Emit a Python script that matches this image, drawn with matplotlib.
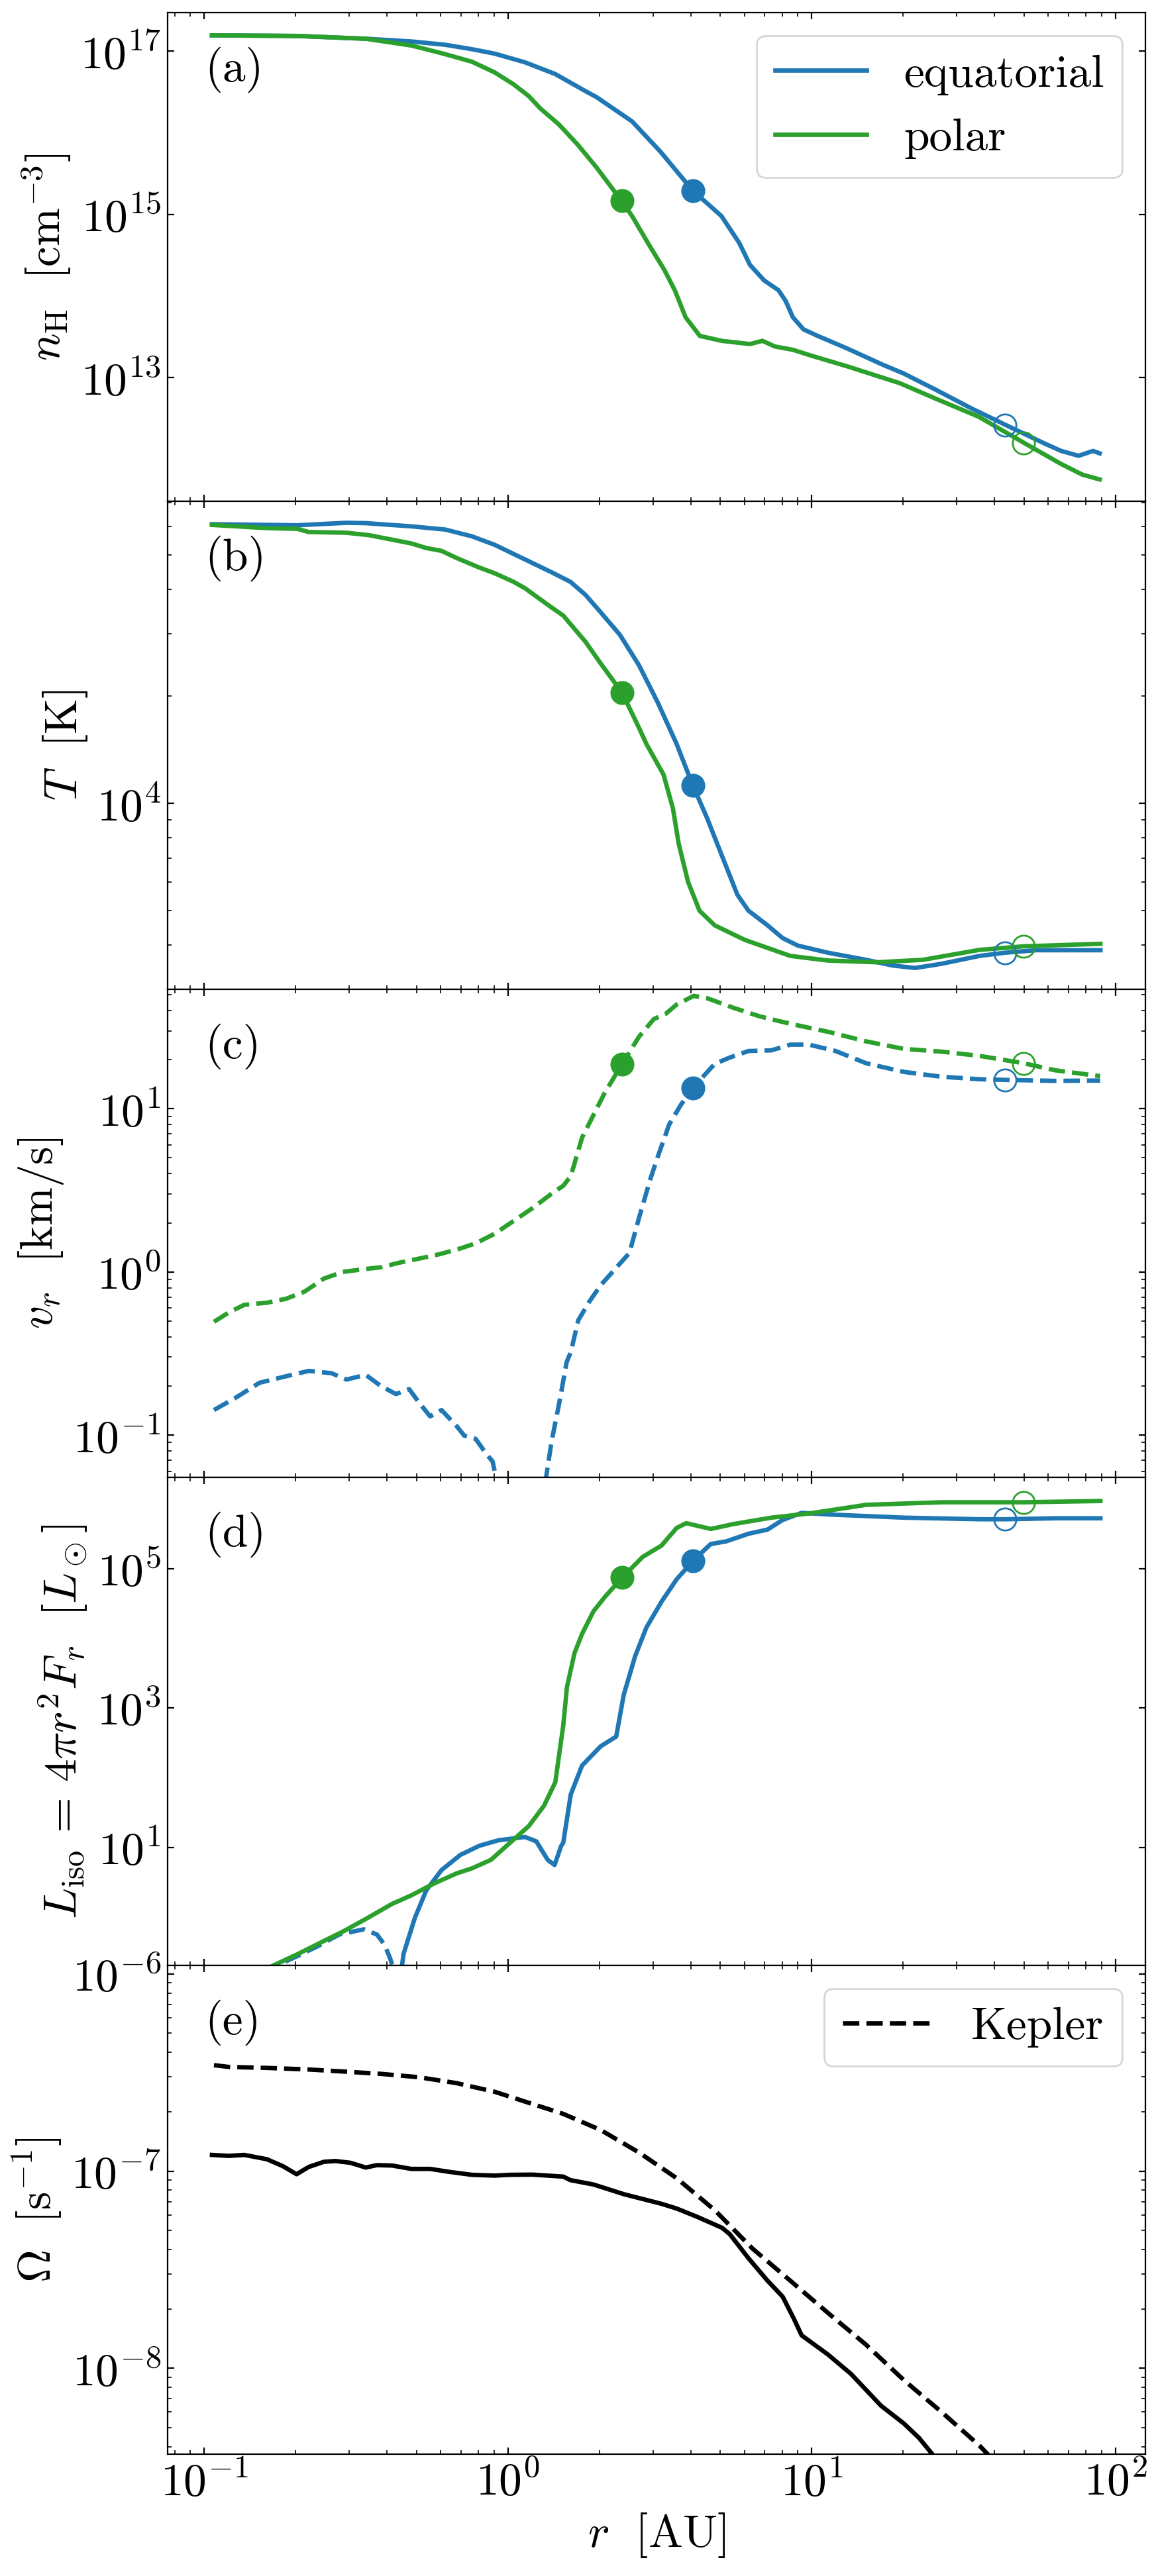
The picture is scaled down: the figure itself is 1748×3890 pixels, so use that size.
import numpy as np
from matplotlib import pyplot as plt
from matplotlib.ticker import NullLocator, NullFormatter

# values; y values stored as log10 (read on log axes)
BLUE = "#1f77b4"
GREEN = "#2ca02c"

# (a) hydrogen density
r_nH_eq = [0.106, 0.2025, 0.340, 0.480, 0.621, 0.760, 0.904, 1.137, 1.431, 1.80,
           1.951, 2.56, 3.18, 4.06, 5.04, 5.77, 6.26, 6.97, 7.77, 8.20, 8.66,
           9.39, 10.46, 13.0, 17.05, 20.05, 25.6, 33.6, 43.4, 57.7, 66.2, 75.6,
           84.3, 88.7]
nH_eq_log = [17.195, 17.187, 17.153, 17.12, 17.079, 17.025, 16.97, 16.864, 16.72,
             16.51, 16.44, 16.14, 15.766, 15.29, 14.98, 14.65, 14.38, 14.19,
             14.07, 13.94, 13.74, 13.59, 13.51, 13.36, 13.16, 13.05, 12.85,
             12.62, 12.42, 12.20, 12.10, 12.04, 12.10, 12.07]
r_nH_pol = [0.106, 0.2025, 0.340, 0.480, 0.604, 0.760, 0.904, 1.043, 1.170, 1.276,
            1.473, 1.70, 1.951, 2.36, 2.56, 2.93, 3.27, 3.54, 3.84, 4.28, 5.04,
            6.26, 6.88, 7.56, 8.66, 9.92, 13.0, 19.5, 25.6, 35.4, 49.9, 66.2,
            77.7, 88.7]
nH_pol_log = [17.195, 17.187, 17.153, 17.07, 16.976, 16.872, 16.74, 16.594, 16.45,
              16.30, 16.10, 15.85, 15.58, 15.17, 14.98, 14.61, 14.32, 14.07,
              13.74, 13.51, 13.45, 13.41, 13.45, 13.38, 13.34, 13.27, 13.14,
              12.93, 12.74, 12.52, 12.20, 11.94, 11.81, 11.75]

# (b) temperature
r_T_eq = [0.106, 0.2025, 0.294, 0.340, 0.480, 0.621, 0.760, 0.904, 1.137, 1.390,
          1.605, 1.80, 2.02, 2.335, 2.70, 3.11, 3.59, 4.06, 4.52, 5.07, 5.69,
          6.19, 7.15, 8.02, 9.00, 11.3, 15.1, 18.44, 21.9, 26.8, 35.7, 43.3,
          54.8, 89.2]
T_eq_log = [4.785, 4.782, 4.789, 4.788, 4.779, 4.770, 4.751, 4.727, 4.686, 4.650,
            4.623, 4.586, 4.537, 4.474, 4.388, 4.284, 4.167, 4.050, 3.959, 3.851,
            3.743, 3.698, 3.657, 3.621, 3.600, 3.580, 3.560, 3.544, 3.537, 3.549,
            3.571, 3.580, 3.587, 3.587]
r_T_pol = [0.106, 0.1608, 0.2025, 0.2208, 0.294, 0.3497, 0.480, 0.538, 0.604,
           0.677, 0.805, 0.904, 1.043, 1.137, 1.390, 1.52, 1.80, 2.02, 2.375,
           2.70, 2.855, 3.25, 3.49, 3.645, 3.915, 4.27, 4.79, 6.02, 8.50, 11.3,
           16.4, 23.2, 35.7, 49.9, 89.2]
T_pol_log = [4.783, 4.774, 4.772, 4.763, 4.761, 4.754, 4.731, 4.718, 4.710, 4.690,
             4.663, 4.647, 4.623, 4.605, 4.551, 4.528, 4.454, 4.393, 4.311, 4.212,
             4.167, 4.081, 3.986, 3.887, 3.779, 3.698, 3.657, 3.616, 3.571, 3.558,
             3.553, 3.560, 3.588, 3.598, 3.605]

# (c) radial velocity
r_v_eq = [0.1076, 0.1278, 0.1518, 0.1857, 0.2208, 0.2622, 0.294, 0.340, 0.381,
          0.4276, 0.4727, 0.508, 0.554, 0.604, 0.677, 0.7176, 0.7823, 0.853,
          0.889, 0.916, 0.93, 1.31, 1.332, 1.39, 1.473, 1.56, 1.609, 1.703,
          1.857, 2.02, 2.51, 2.70, 2.94, 3.11, 3.39, 3.695, 4.06, 4.79, 5.37,
          6.19, 7.36, 8.50, 9.80, 11.98, 15.1, 20.1, 26.8, 35.7, 43.3, 63.2, 89.0]
v_eq_log = [-0.847, -0.768, -0.680, -0.640, -0.607, -0.621, -0.660, -0.631, -0.699,
            -0.749, -0.719, -0.798, -0.886, -0.847, -0.945, -1.004, -1.024, -1.122,
            -1.161, -1.27, -1.50, -1.50, -1.27, -1.043, -0.807, -0.552, -0.493,
            -0.297, -0.179, -0.081, 0.116, 0.332, 0.568, 0.705, 0.902, 1.02,
            1.128, 1.275, 1.314, 1.354, 1.358, 1.393, 1.393, 1.354, 1.279, 1.226,
            1.196, 1.181, 1.177, 1.171, 1.173]
r_v_pol = [0.1076, 0.1206, 0.1354, 0.1608, 0.1857, 0.2143, 0.2476, 0.2858, 0.340,
           0.381, 0.440, 0.508, 0.587, 0.677, 0.7823, 0.904, 1.043, 1.204, 1.39,
           1.52, 1.609, 1.753, 1.91, 2.082, 2.375, 2.70, 3.02, 3.295, 3.59, 4.087,
           4.52, 5.52, 6.75, 8.50, 11.3, 15.1, 20.1, 26.8, 35.7, 49.9, 63.2, 89.0]
v_pol_log = [-0.306, -0.248, -0.202, -0.189, -0.165, -0.12, -0.041, 0.0, 0.018,
             0.028, 0.057, 0.081, 0.106, 0.136, 0.175, 0.234, 0.312, 0.391, 0.479,
             0.528, 0.587, 0.823, 0.961, 1.098, 1.275, 1.442, 1.55, 1.58, 1.639,
             1.692, 1.678, 1.619, 1.566, 1.521, 1.472, 1.413, 1.367, 1.35, 1.324,
             1.279, 1.236, 1.20]

# (d) isotropic luminosity
r_L_eq = [0.446, 0.4529, 0.4937, 0.538, 0.604, 0.697, 0.805, 0.929, 1.137, 1.239,
          1.351, 1.423, 1.494, 1.52, 1.609, 1.753, 2.02, 2.27, 2.404, 2.62, 2.855,
          3.20, 3.59, 4.06, 4.65, 5.22, 6.19, 7.15, 8.02, 9.26, 11.3, 20.1, 35.7,
          43.3, 63.2, 89.2]
L_eq_log = [-0.75, -0.53, -0.01, 0.383, 0.674, 0.892, 1.023, 1.101, 1.149, 1.086,
            0.82, 0.747, 1.014, 1.069, 1.76, 2.175, 2.452, 2.59, 3.189, 3.742,
            4.157, 4.525, 4.848, 5.111, 5.355, 5.392, 5.502, 5.562, 5.70, 5.802,
            5.779, 5.733, 5.71, 5.71, 5.724, 5.724]
r_L_eq_neg = [0.185, 0.2025, 0.2337, 0.2778, 0.335, 0.3703, 0.3924, 0.4096, 0.42]
L_eq_neg_log = [-0.64, -0.56, -0.43, -0.252, -0.177, -0.252, -0.40, -0.60, -0.75]
r_L_pol = [0.16, 0.168, 0.2025, 0.2476, 0.2858, 0.340, 0.4155, 0.480, 0.570, 0.677,
           0.760, 0.878, 1.013, 1.170, 1.313, 1.431, 1.47, 1.52, 1.563, 1.655,
           1.753, 1.91, 2.082, 2.375, 2.775, 3.20, 3.59, 3.86, 4.65, 5.52, 7.36,
           9.80, 15.1, 26.8, 49.9, 89.2]
L_pol_log = [-0.76, -0.70, -0.535, -0.344, -0.21, -0.029, 0.189, 0.31, 0.48, 0.626,
             0.698, 0.82, 1.062, 1.305, 1.596, 1.935, 2.3, 2.75, 3.3, 3.788, 4.065,
             4.387, 4.594, 4.871, 5.17, 5.332, 5.585, 5.654, 5.571, 5.641, 5.733,
             5.793, 5.917, 5.954, 5.954, 5.972]

# (e) angular velocity
r_om = [0.106, 0.1206, 0.1354, 0.1608, 0.1814, 0.2013, 0.2208, 0.2476, 0.270,
        0.3029, 0.340, 0.3703, 0.4155, 0.480, 0.554, 0.640, 0.760, 0.904, 1.013,
        1.204, 1.351, 1.52, 1.605, 1.91, 2.404, 3.20, 3.59, 4.18, 5.07, 5.37,
        6.19, 7.15, 8.02, 8.745, 9.26, 11.3, 13.45, 16.91, 20.1, 22.54, 24.9, 26.0]
om_log = [-6.918, -6.923, -6.918, -6.940, -6.975, -7.016, -6.979, -6.953, -6.949,
          -6.958, -6.982, -6.970, -6.972, -6.989, -6.989, -7.004, -7.019, -7.023,
          -7.019, -7.018, -7.023, -7.028, -7.046, -7.068, -7.117, -7.166, -7.19,
          -7.231, -7.288, -7.32, -7.442, -7.556, -7.637, -7.751, -7.833, -7.93,
          -8.028, -8.19, -8.28, -8.353, -8.434, -8.47]
r_kep = [0.1076, 0.1206, 0.1608, 0.2143, 0.2858, 0.381, 0.508, 0.677, 0.904, 1.204,
         1.52, 2.02, 2.70, 3.59, 4.79, 6.38, 8.50, 11.3, 15.1, 20.1, 26.8, 35.7,
         38.3, 40.0]
kep_log = [-6.463, -6.472, -6.477, -6.484, -6.495, -6.507, -6.524, -6.554, -6.598,
           -6.66, -6.71, -6.792, -6.906, -7.036, -7.198, -7.393, -7.556, -7.719,
           -7.881, -8.06, -8.223, -8.393, -8.442, -8.47]

# marker radii and values (filled: eq, pol; open: eq, pol)
r_fill = [4.06, 2.37]
r_open = [43.3, 49.9]
mark_nH = [[15.29, 15.17], [12.42, 12.20]]
mark_T = [[4.050, 4.311], [3.580, 3.598]]
mark_v = [[1.128, 1.275], [1.177, 1.279]]
mark_L = [[5.111, 4.871], [5.71, 5.954]]

plt.rcParams.update({
    "font.family": "serif",
    "font.serif": ["cmr10"],
    "mathtext.fontset": "cm",
    "axes.formatter.use_mathtext": True,
    "axes.unicode_minus": False,
    "font.size": 25,
    "xtick.direction": "in",
    "ytick.direction": "in",
    "xtick.top": True,
    "ytick.right": True,
})

fig, axes = plt.subplots(5, 1, figsize=(8.74, 19.45), dpi=200, sharex=True)
fig.subplots_adjust(left=0.1447, right=0.9891, top=0.995, bottom=0.0474,
                    hspace=0)

LW = 2.4


def p(vals):
    return np.power(10.0, np.asarray(vals, dtype=float))


def add_marks(ax, marks):
    cols = [BLUE, GREEN]
    for i in range(2):
        ax.plot(r_fill[i], p(marks[0][i]), "o", color=cols[i], ms=12, zorder=5)
        ax.plot(r_open[i], p(marks[1][i]), "o", mfc="none", mec=cols[i],
                ms=12, mew=1.0, zorder=5)


# (a)
ax = axes[0]
ax.plot(r_nH_eq, p(nH_eq_log), color=BLUE, lw=LW, label="equatorial")
ax.plot(r_nH_pol, p(nH_pol_log), color=GREEN, lw=LW, label="polar")
add_marks(ax, mark_nH)
ax.set_yscale("log")
ax.set_ylim(10 ** 11.485, 10 ** 17.47)
ax.set_yticks([1e13, 1e15, 1e17])
ax.yaxis.set_minor_locator(NullLocator())
ax.set_ylabel(r"$n_{\rm H}\ \ [{\rm cm}^{-3}]$")
ax.legend(loc="upper right")

# (b)
ax = axes[1]
ax.plot(r_T_eq, p(T_eq_log), color=BLUE, lw=LW)
ax.plot(r_T_pol, p(T_pol_log), color=GREEN, lw=LW)
add_marks(ax, mark_T)
ax.set_yscale("log")
ax.set_ylim(3000, 7.08e4)
ax.set_ylabel(r"$T\ \ [{\rm K}]$")

# (c)
ax = axes[2]
ax.plot(r_v_eq, p(v_eq_log), "--", color=BLUE, lw=LW)
ax.plot(r_v_pol, p(v_pol_log), "--", color=GREEN, lw=LW)
add_marks(ax, mark_v)
ax.set_yscale("log")
ax.set_ylim(0.0549, 54)
ax.set_ylabel(r"$v_r\ \ [{\rm km/s}]$")

# (d)
ax = axes[3]
ax.plot(r_L_eq_neg, p(L_eq_neg_log), "--", color=BLUE, lw=LW)
ax.plot(r_L_eq, p(L_eq_log), color=BLUE, lw=LW)
ax.plot(r_L_pol, p(L_pol_log), color=GREEN, lw=LW)
add_marks(ax, mark_L)
ax.set_yscale("log")
ax.set_ylim(0.2, 2.04e6)
ax.set_yticks([1e1, 1e3, 1e5])
ax.yaxis.set_minor_locator(NullLocator())
ax.set_ylabel(r"$L_{\rm iso}\,=\,4\pi r^2 F_r\ \ [L_\odot]$")

# (e)
ax = axes[4]
ax.plot(r_om, p(om_log), color="k", lw=LW)
ax.plot(r_kep, p(kep_log), "--", color="k", lw=LW, label="Kepler")
ax.set_yscale("log")
ax.set_ylim(3.68e-9, 1.1e-6)
ax.set_ylabel(r"$\Omega\ \ [{\rm s}^{-1}]$")
ax.legend(loc="upper right")

ax.set_xscale("log")
ax.set_xlim(0.0757, 125.4)
ax.set_xlabel(r"$r\ \ [{\rm AU}]$")

for a, lab in zip(axes, "abcde"):
    a.text(0.038, 0.93, f"({lab})", transform=a.transAxes, va="top", ha="left")
    a.yaxis.set_minor_formatter(NullFormatter())

fig.savefig("out.png", dpi=200)
